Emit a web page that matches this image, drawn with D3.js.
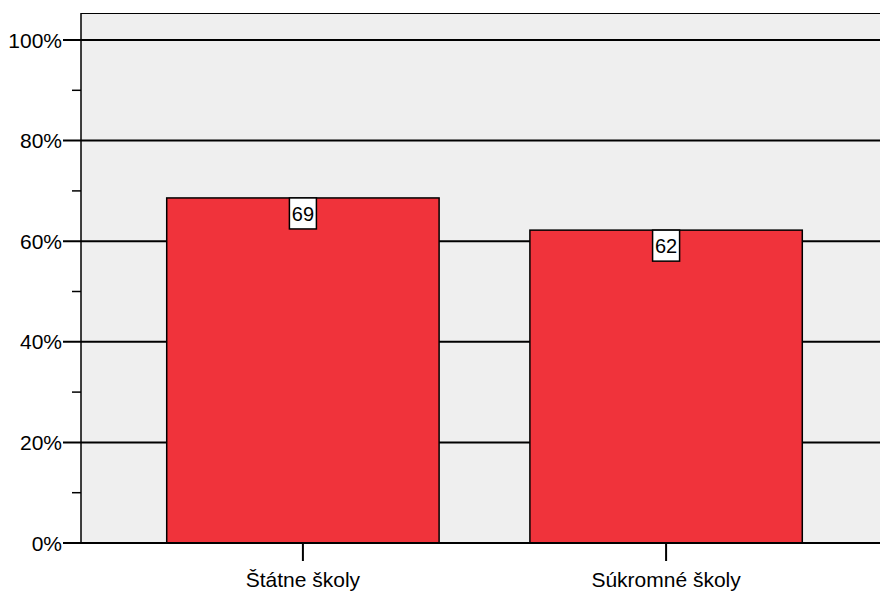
<!DOCTYPE html>
<html><head><meta charset="utf-8">
<script src="https://cdn.jsdelivr.net/npm/d3@7"></script>
<style>body{margin:0;background:#fff}svg{display:block;font-family:Arial,"Liberation Sans",sans-serif}</style>
</head><body><svg id="c" width="880" height="592"></svg>
<script>
const categories = ["Štátne školy", "Súkromné školy"];
const values = [68.6, 62.2];
const valueLabels = ["69", "62"];
const majorTicks = [0, 20, 40, 60, 80, 100];
const minorTicks = [10, 30, 50, 70, 90];

const svg = d3.select("#c");
const L = 81, R = 888, T = 13, B = 543;
const y = d3.scaleLinear().domain([0, 100]).range([B, 40]);
const x = d3.scaleBand().domain(categories).range([L, R]).paddingInner(0.25).paddingOuter(0.236);

// plot background
svg.append("rect").attr("x", L).attr("y", T).attr("width", 880 - L).attr("height", B - T).attr("fill", "#efefef");

// gridlines
svg.selectAll("line.grid").data(majorTicks.filter(d => d > 0)).join("line")
  .attr("x1", 63).attr("x2", 880).attr("y1", d => y(d)).attr("y2", d => y(d))
  .attr("stroke", "#000").attr("stroke-width", 2);

// minor ticks
svg.selectAll("line.minor").data(minorTicks).join("line")
  .attr("x1", 72).attr("x2", L).attr("y1", d => y(d)).attr("y2", d => y(d))
  .attr("stroke", "#000").attr("stroke-width", 1.5);

// frame
svg.append("line").attr("x1", L).attr("x2", 880).attr("y1", T + 0.5).attr("y2", T + 0.5).attr("stroke", "#000").attr("stroke-width", 1);
svg.append("line").attr("x1", L).attr("x2", L).attr("y1", T).attr("y2", B).attr("stroke", "#000").attr("stroke-width", 1.5);

// bars
svg.selectAll("rect.bar").data(values).join("rect")
  .attr("x", (d, i) => x(categories[i])).attr("width", x.bandwidth())
  .attr("y", d => y(d)).attr("height", d => B - y(d))
  .attr("fill", "#f0333b").attr("stroke", "#000").attr("stroke-width", 1.5);

// axis line at 0
svg.append("line").attr("x1", 63).attr("x2", 880).attr("y1", B).attr("y2", B).attr("stroke", "#000").attr("stroke-width", 2);

// y tick labels
svg.selectAll("text.yl").data(majorTicks).join("text")
  .attr("x", 62).attr("y", d => y(d)).attr("dy", "0.36em").attr("text-anchor", "end")
  .attr("font-size", 21).attr("fill", "#000").text(d => d + "%");

// x ticks & labels
categories.forEach(c => {
  const cx = x(c) + x.bandwidth() / 2;
  svg.append("line").attr("x1", cx).attr("x2", cx).attr("y1", B).attr("y2", 561).attr("stroke", "#000").attr("stroke-width", 2);
  svg.append("text").attr("x", cx).attr("y", 587).attr("text-anchor", "middle").attr("font-size", 21).attr("fill", "#000").text(c);
});

// value labels
values.forEach((v, i) => {
  const cx = x(categories[i]) + x.bandwidth() / 2;
  const g = svg.append("g");
  const t = g.append("text").attr("x", cx).attr("y", y(v) + 16).attr("dy", "0.36em").attr("text-anchor", "middle")
    .attr("font-size", 20).attr("fill", "#000").text(valueLabels[i]);
  const bb = t.node().getBBox();
  g.insert("rect", "text").attr("x", cx - 13.5).attr("y", y(v)).attr("width", 27).attr("height", 31)
    .attr("fill", "#fff").attr("stroke", "#000").attr("stroke-width", 1.5);
});
</script></body></html>
